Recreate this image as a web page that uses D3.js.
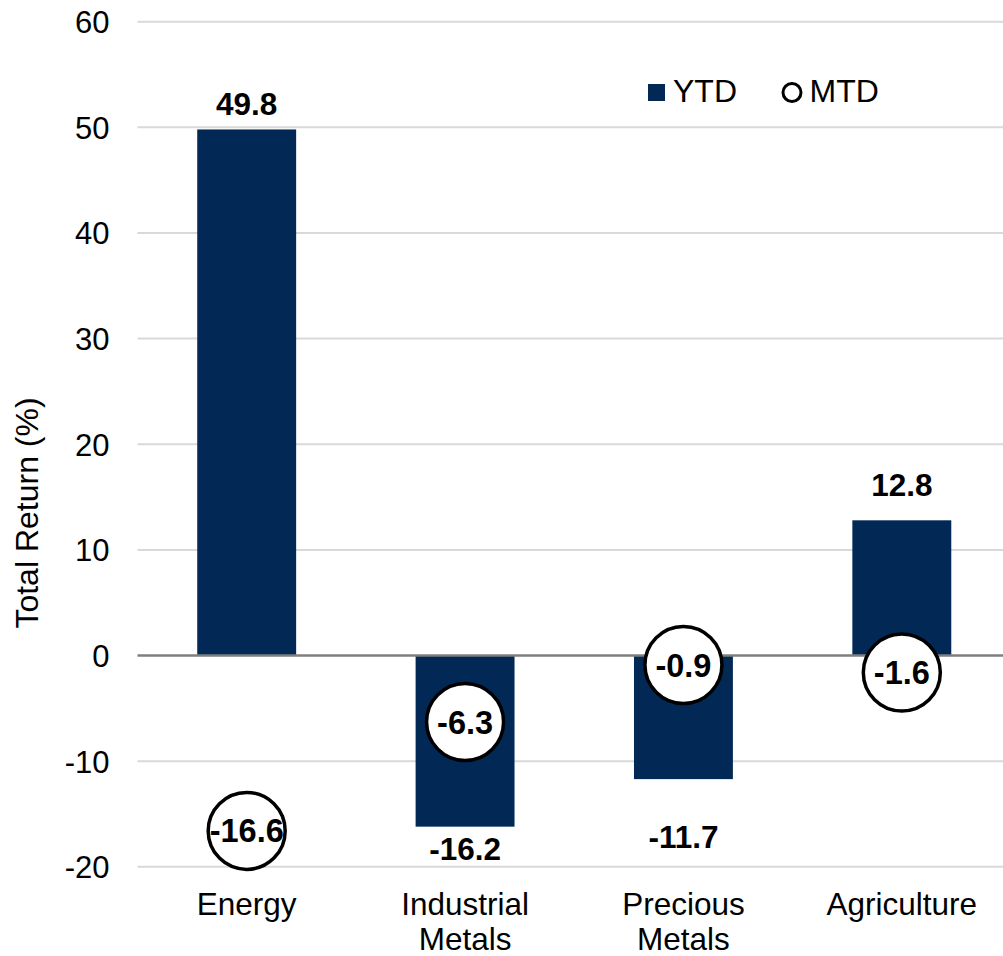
<!DOCTYPE html>
<html>
<head>
<meta charset="utf-8">
<script src="https://cdn.jsdelivr.net/npm/d3@7"></script>
<style>
  html, body { margin: 0; padding: 0; background: #fff; }
  svg { display: block; font-family: "Liberation Sans", Arial, sans-serif; }
</style>
</head>
<body>
<svg id="chart" width="1003" height="956"></svg>
<script>
// ---- data ----
const categories = [["Energy"], ["Industrial", "Metals"], ["Precious", "Metals"], ["Agriculture"]];
const ytd = [49.8, -16.2, -11.7, 12.8];
const mtd = [-16.6, -6.3, -0.9, -1.6];
const yTicks = [-20, -10, 0, 10, 20, 30, 40, 50, 60];
const seriesNames = ["YTD", "MTD"];

// ---- layout / style (not data) ----
const ytdLabelOffset = [-14, 33, 69, -24]; // px offset of YTD label baseline from bar end
const plotLeft = 137.5, plotRight = 1011;
const barColor = "#022856";
const hy = s => s.replace(/\u2212/g, "-");
const fmt1 = d => hy(d3.format(".1f")(d));
const fmt0 = d => hy(d3.format("d")(d));

const svg = d3.select("#chart");
const keys = categories.map(c => c.join(" "));

const x = d3.scaleBand().domain(keys).range([plotLeft, plotRight]).paddingInner(0.547).paddingOuter(0.2735);
const y = d3.scaleLinear().domain([-20, 60]).range([866.8, 21.7]);

// gridlines
svg.append("g").selectAll("line").data(yTicks.filter(t => t !== 0)).join("line")
  .attr("x1", plotLeft).attr("x2", plotRight)
  .attr("y1", d => y(d)).attr("y2", d => y(d))
  .attr("stroke", "#d9d9d9").attr("stroke-width", 2);

// y axis tick labels
const yAxis = d3.axisLeft(y).tickValues(yTicks).tickSize(0).tickPadding(0).tickFormat(fmt0);
const ya = svg.append("g").attr("transform", "translate(109.5,0)").call(yAxis);
ya.select(".domain").remove();
ya.selectAll("text").attr("font-size", 31).attr("fill", "#000")
  .attr("font-family", "Liberation Sans, Arial, sans-serif").attr("dy", "0.35em");

// y title
svg.append("text")
  .attr("transform", "translate(38,513) rotate(-90)")
  .attr("text-anchor", "middle").attr("font-size", 32).attr("fill", "#000")
  .text("Total Return (%)");

// bars
svg.append("g").selectAll("rect").data(ytd).join("rect")
  .attr("x", (d, i) => x(keys[i]))
  .attr("width", x.bandwidth())
  .attr("y", d => y(Math.max(0, d)))
  .attr("height", d => Math.abs(y(d) - y(0)))
  .attr("fill", barColor);

// zero line
svg.append("line").attr("x1", plotLeft).attr("x2", plotRight)
  .attr("y1", y(0)).attr("y2", y(0))
  .attr("stroke", "#7f7f7f").attr("stroke-width", 2.5);

// YTD labels
svg.append("g").selectAll("text").data(ytd).join("text")
  .attr("x", (d, i) => x(keys[i]) + x.bandwidth() / 2)
  .attr("y", (d, i) => y(d) + ytdLabelOffset[i])
  .attr("text-anchor", "middle").attr("font-size", 31.5).attr("font-weight", "bold").attr("fill", "#000")
  .text(fmt1);

// MTD circles
const mg = svg.append("g").selectAll("g").data(mtd).join("g")
  .attr("transform", (d, i) => `translate(${x(keys[i]) + x.bandwidth() / 2},${y(d)})`);
mg.append("circle").attr("r", 38.5).attr("fill", "#fff").attr("stroke", "#000").attr("stroke-width", 3.5);
mg.append("text").attr("y", 11.5).attr("text-anchor", "middle")
  .attr("font-size", 32.5).attr("font-weight", "bold").attr("fill", "#000")
  .text(fmt1);

// category labels
const cg = svg.append("g").selectAll("text").data(categories).join("text")
  .attr("x", (d, i) => x(keys[i]) + x.bandwidth() / 2)
  .attr("y", 915)
  .attr("text-anchor", "middle").attr("font-size", 31.5).attr("fill", "#000");
cg.selectAll("tspan").data(d => d).join("tspan")
  .attr("x", function () { return d3.select(this.parentNode).attr("x"); })
  .attr("dy", (d, j) => j === 0 ? 0 : 35)
  .text(d => d);

// legend
const lg = svg.append("g");
lg.append("rect").attr("x", 648).attr("y", 84).attr("width", 17).attr("height", 17).attr("fill", barColor);
lg.append("text").attr("x", 673).attr("y", 102).attr("font-size", 32).attr("fill", "#000").text(seriesNames[0]);
lg.append("circle").attr("cx", 792).attr("cy", 92.5).attr("r", 9).attr("fill", "#fff").attr("stroke", "#000").attr("stroke-width", 3);
lg.append("text").attr("x", 809.5).attr("y", 102).attr("font-size", 32).attr("fill", "#000").text(seriesNames[1]);
</script>
</body>
</html>
